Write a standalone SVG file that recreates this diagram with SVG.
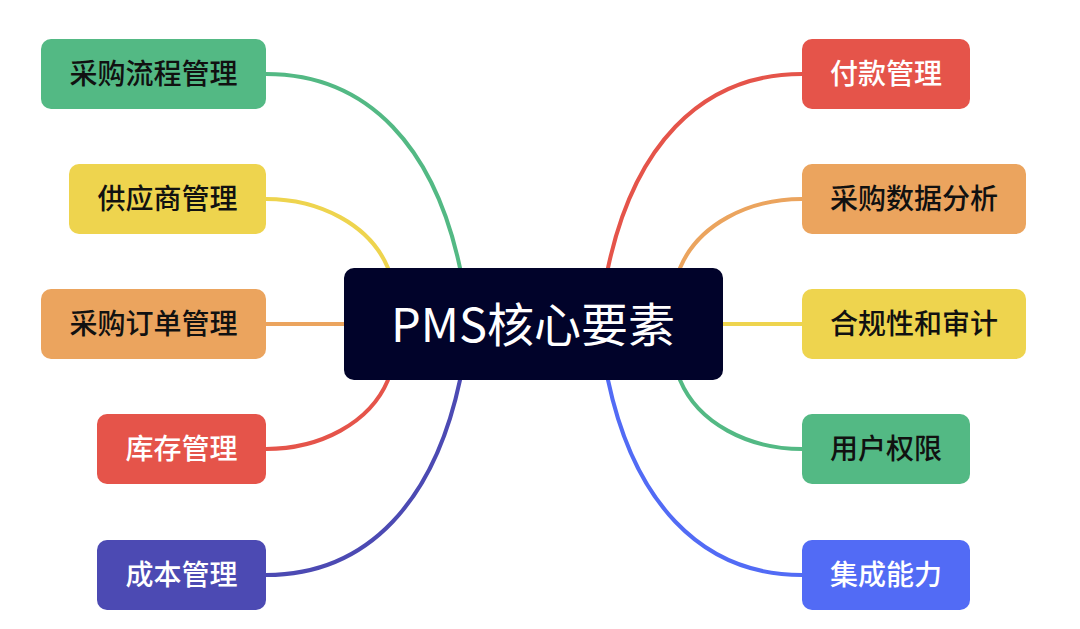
<svg xmlns="http://www.w3.org/2000/svg" width="1080" height="629" viewBox="0 0 1080 629">
<style>
.lbl{font-family:"Noto Sans CJK SC","Noto Sans",sans-serif;font-size:28px;font-weight:500;text-anchor:middle}
.dark{fill:#111111}
.light{fill:#ffffff}
.edge{fill:none;stroke-width:4;stroke-linecap:round}
.green{fill:#53B984}.yellow{fill:#EED44E}.orange{fill:#EBA45E}.red{fill:#E5544A}.purple{fill:#4C4AB3}.blue{fill:#526BF5}
</style>
<rect width="1080" height="629" fill="#ffffff"/>
<g id="connectors">
<path class="edge" stroke="#53B984" d="M266 74 C370 74 435 150 460 268"/>
<path class="edge" stroke="#EED44E" d="M266 199 C320 199 370 225 388 268"/>
<path class="edge" stroke="#EBA45E" d="M266 324 L344 324"/>
<path class="edge" stroke="#E5544A" d="M266 449 C320 449 370 423 388 380"/>
<path class="edge" stroke="#4C4AB3" d="M266 575 C370 575 435 498 460 380"/>
<path class="edge" stroke="#E5544A" d="M802 74 C698 74 633 150 608 268"/>
<path class="edge" stroke="#EBA45E" d="M802 199 C748 199 698 225 680 268"/>
<path class="edge" stroke="#EED44E" d="M722 324 L802 324"/>
<path class="edge" stroke="#53B984" d="M802 449 C748 449 698 423 680 380"/>
<path class="edge" stroke="#526BF5" d="M802 575 C698 575 633 498 608 380"/>
</g>
<g id="center">
<rect x="344" y="268" width="379" height="112" rx="10" fill="#01032A"/>
<text x="533" y="342" font-family="Noto Sans CJK SC, Noto Sans, sans-serif" font-size="47" fill="#ffffff" text-anchor="middle">PMS核心要素</text>
</g>
<g id="n-l1"><rect class="green" x="41" y="39" width="225" height="70" rx="10"/><text class="lbl dark" x="153.5" y="84">采购流程管理</text></g>
<g id="n-l2"><rect class="yellow" x="69" y="164" width="197" height="70" rx="10"/><text class="lbl dark" x="167.5" y="209">供应商管理</text></g>
<g id="n-l3"><rect class="orange" x="41" y="289" width="225" height="70" rx="10"/><text class="lbl dark" x="153.5" y="334">采购订单管理</text></g>
<g id="n-l4"><rect class="red" x="97" y="414" width="169" height="70" rx="10"/><text class="lbl light" x="181.5" y="459">库存管理</text></g>
<g id="n-l5"><rect class="purple" x="97" y="540" width="169" height="70" rx="10"/><text class="lbl light" x="181.5" y="585">成本管理</text></g>
<g id="n-r1"><rect class="red" x="802" y="39" width="168" height="70" rx="10"/><text class="lbl light" x="886" y="84">付款管理</text></g>
<g id="n-r2"><rect class="orange" x="802" y="164" width="224" height="70" rx="10"/><text class="lbl dark" x="914" y="209">采购数据分析</text></g>
<g id="n-r3"><rect class="yellow" x="802" y="289" width="224" height="70" rx="10"/><text class="lbl dark" x="914" y="334">合规性和审计</text></g>
<g id="n-r4"><rect class="green" x="802" y="414" width="168" height="70" rx="10"/><text class="lbl dark" x="886" y="459">用户权限</text></g>
<g id="n-r5"><rect class="blue" x="802" y="540" width="168" height="70" rx="10"/><text class="lbl light" x="886" y="585">集成能力</text></g>
</svg>
